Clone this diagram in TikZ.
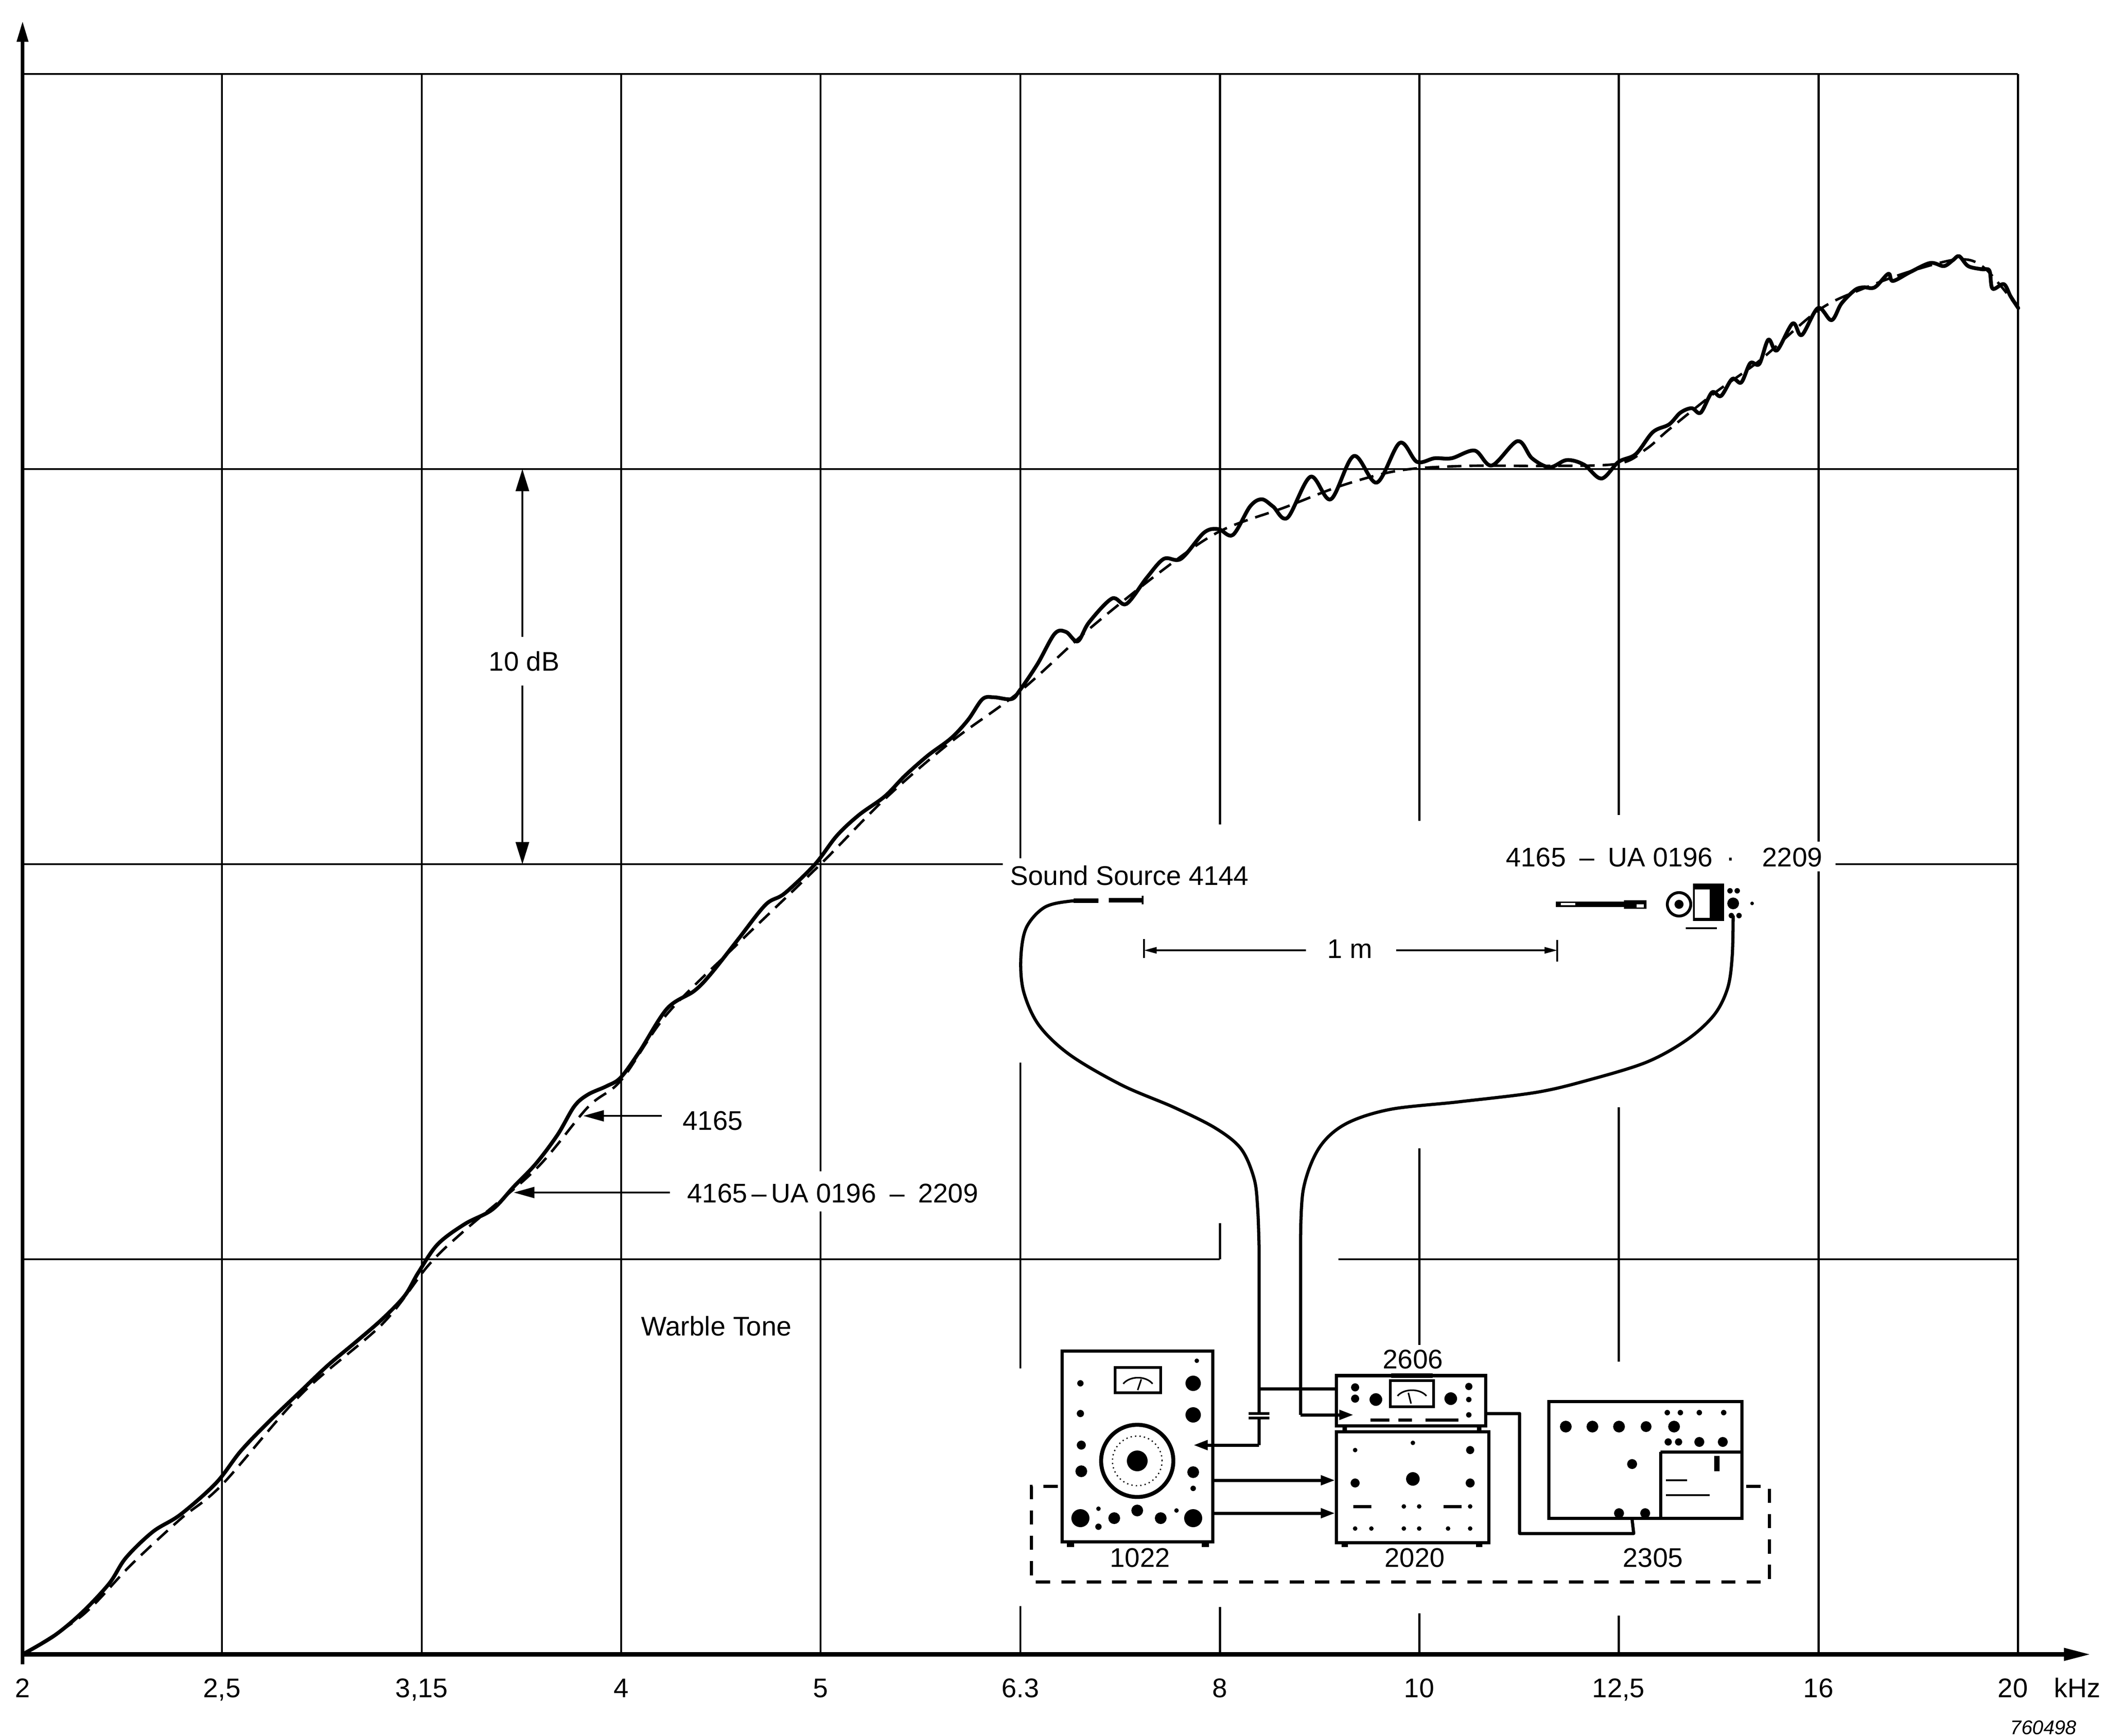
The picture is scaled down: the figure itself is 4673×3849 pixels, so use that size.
\documentclass[tikz,border=0pt]{standalone}
\usepackage{fontspec}
\setmainfont{Liberation Sans}
\usetikzlibrary{arrows.meta,calc}
\begin{document}
\begin{tikzpicture}[x=0.01cm,y=-0.01cm,
  grid/.style={line width=1.4pt},
  axisline/.style={line width=2pt},
  curve/.style={line width=2.4pt,line join=round,line cap=round},
  dcurve/.style={line width=1.6pt,dash pattern=on 9pt off 5pt},
  lbl/.style={font=\fontsize{17}{20}\selectfont,inner sep=0pt},
  thinarrow/.style={line width=0.9pt,-{Triangle[length=13pt,width=7pt]}},
  cable/.style={line width=2pt,line join=round},
  sig/.style={line width=2pt,-{Triangle[length=9pt,width=6pt]}},
  inst/.style={draw,line width=2pt,fill=white,inner sep=0pt},
  dashbox/.style={line width=2pt,dash pattern=on 9pt off 7pt},
  thin/.style={line width=1pt}]
\useasboundingbox (0,0) rectangle (4673,3849);
\fill[white] (0,0) rectangle (4673,3849);
% ---------- grid ----------
\draw[grid] (50,164) -- (4473,164);
\draw[grid] (50,1040) -- (4473,1040);
\draw[grid] (50,1916) -- (2223,1916) (4069,1916) -- (4473,1916);
\draw[grid] (50,2792) -- (2704,2792) (2967,2792) -- (4473,2792);
\foreach \x in {492,935,1377,4473} \draw[grid] (\x,164) -- (\x,3668);
\draw[grid] (1819,164) -- (1819,2597) (1819,2686) -- (1819,3668);
\draw[grid] (2262,164) -- (2262,1903) (2262,2356) -- (2262,3034) (2262,3561) -- (2262,3668);
\draw[grid] (2704,164) -- (2704,1828) (2704,2712) -- (2704,2792) (2704,3563) -- (2704,3668);
\draw[grid] (3146,164) -- (3146,1820) (3146,2546) -- (3146,2982) (3146,3577) -- (3146,3668);
\draw[grid] (3588,164) -- (3588,1807) (3588,2455) -- (3588,3019) (3588,3582) -- (3588,3668);
\draw[grid] (4031,164) -- (4031,1866) (4031,1932) -- (4031,3668);
% ---------- axes ----------
\draw[axisline,-{Triangle[length=13pt,width=7pt]}] (50,3690) -- (50,47);
\draw[line width=2.7pt,-{Triangle[length=17pt,width=7.5pt]}] (50,3668) -- (4635,3668);
\foreach \x/\t in {50/2,492/{2,5},935/{3,15},1377/4,1819/5,2262/6.3,2704/8,3146/10,3588/{12,5},4031/16,4462/20}
  \node[lbl,anchor=base] at (\x,3763) {\t};
\node[lbl,anchor=base] (khz) at (4605,3763) {kHz};
\node[font=\fontsize{12.5}{14}\selectfont\itshape,anchor=base,inner sep=0pt] (fig) at (4530,3845) {760498};
% ---------- curves ----------
\draw[dcurve] plot[smooth,tension=0.55] coordinates {(50,3668) (182,3582) (290,3470) (400,3368) (492,3292) (667,3092) (848,2935) (950,2805) (1030,2728) (1188,2592) (1303,2455) (1377,2395) (1479,2248) (1636,2092) (1819,1916) (1961,1772) (2108,1645) (2262,1532) (2414,1395) (2580,1262) (2704,1178) (2848,1125) (2976,1076) (3103,1043) (3250,1033) (3435,1033) (3588,1028) (3650,995) (3700,952) (3800,872) (3900,800) (4031,688) (4130,640) (4240,600) (4343,575) (4400,595) (4474,683)};
\draw[curve] plot[smooth,tension=0.55] coordinates {(50,3668) (121,3626) (182,3575) (242,3511) (279,3454) (339,3396) (400,3358) (479,3288) (533,3218) (594,3154) (667,3084) (727,3027) (788,2976) (848,2924) (897,2873) (927,2822) (970,2759) (1030,2714) (1091,2682) (1139,2631) (1188,2580) (1236,2516) (1273,2453) (1303,2427) (1345,2408) (1376,2389) (1418,2331) (1479,2236) (1539,2197) (1576,2159) (1636,2083) (1697,2006) (1739,1981) (1806,1917) (1855,1853) (1904,1807) (1961,1766) (2006,1720) (2057,1675) (2108,1637) (2146,1596) (2178,1550) (2204,1546) (2242,1550) (2261,1530) (2300,1472) (2338,1405) (2363,1401) (2389,1422) (2414,1380) (2465,1327) (2497,1339) (2542,1281) (2580,1239) (2618,1239) (2669,1181) (2701,1173) (2733,1186) (2771,1123) (2797,1107) (2822,1123) (2854,1148) (2905,1057) (2950,1107) (3001,1011) (3052,1070) (3103,982) (3141,1024) (3180,1016) (3218,1016) (3269,999) (3307,1032) (3364,978) (3396,1016) (3435,1036) (3473,1020) (3511,1030) (3550,1061) (3588,1024) (3626,1007) (3664,958) (3700,941) (3725,915) (3750,905) (3770,915) (3795,870) (3815,878) (3840,840) (3860,848) (3880,805) (3900,807) (3920,753) (3939,777) (3974,717) (3994,743) (4030,683) (4060,710) (4082,673) (4112,643) (4131,637) (4156,637) (4186,607) (4196,623) (4235,603) (4279,583) (4309,590) (4329,577) (4343,568) (4363,590) (4393,597) (4410,600) (4417,640) (4442,630) (4457,657) (4474,683)};
% ---------- 10 dB ----------
\draw[line width=0.9pt,{Triangle[length=14pt,width=8.5pt]}-{Triangle[length=14pt,width=8.5pt]}] (1158,1040) -- (1158,1916);
\node[lbl,fill=white,inner xsep=3pt,inner ysep=9pt] (db) at (1162,1466) {10 dB};
% ---------- curve labels ----------
\node[lbl,anchor=base] (l1) at (1580,2505) {4165};
\node[lbl,anchor=base] (l2) at (1846,2666) {4165\,–\,UA 0196\enspace–\enspace2209};
\draw[thinarrow] (1467,2474) -- (1293,2474);
\draw[thinarrow] (1485,2644) -- (1139,2644);
\node[lbl,anchor=base] (wt) at (1588,2961) {Warble Tone};
% ---------- set-up labels ----------
\node[lbl,anchor=base] (ss) at (2504,1962) {Sound Source 4144};
\node[lbl,anchor=base] (ml) at (3689,1921) {4165\enspace–\enspace UA 0196\enspace·\quad 2209};
\node[lbl,anchor=base] (onem) at (2992,2124) {1 m};
\draw[thin] (2536,2082) -- (2536,2124) (3452,2084) -- (3452,2132);
\draw[thin,-{Triangle[length=8pt,width=4pt]}] (2895,2107) -- (2536,2107);
\draw[thin,-{Triangle[length=8pt,width=4pt]}] (3095,2107) -- (3452,2107);
% sound source
\draw[line width=2.8pt] (2458,1996) -- (2533,1996);
\draw[line width=1pt] (2533,1986) -- (2533,2005);
\draw[cable] plot[smooth,tension=0.55] coordinates {(2435,1997) (2372,1998) (2315,2012) (2275,2057) (2263,2124) (2269,2198) (2303,2273) (2372,2339) (2487,2406) (2602,2455) (2694,2501) (2751,2547) (2780,2613) (2788,2679) (2791,2762)} -- (2791,3204);
\draw[line width=2.8pt] (2380,1997) -- (2435,1997);
% microphone + 2209
\fill (3449,1999) rectangle (3600,2011);
\fill[white] (3460,2002) rectangle (3492,2007);
\fill (3600,1996) rectangle (3650,2015);
\fill[white] (3628,2005) rectangle (3644,2012);
\draw[line width=1.8pt] (3722,2005) circle (0.26cm);
\fill (3722,2005) circle (0.1cm);
\fill (3753,1959) rectangle (3822,2042);
\fill[white] (3757,1972) rectangle (3790,2035);
\fill (3835,1975) circle (0.06cm) (3851,1975) circle (0.06cm) (3842,2003) circle (0.13cm) (3838,2030) circle (0.06cm) (3855,2030) circle (0.06cm) (3884,2003) circle (0.04cm);
\draw[thin] (3737,2058) -- (3806,2058);
\draw[cable] plot[smooth,tension=0.55] coordinates {(3842,2030) (3840,2119) (3830,2190) (3800,2250) (3740,2305) (3650,2355) (3520,2395) (3405,2422) (3233,2443) (3080,2460) (2981,2493) (2923,2547) (2889,2638) (2883,2762)} -- (2883,3137);
% dashed frame
\draw[dashbox] (2345,3295) -- (2286,3295) -- (2286,3507) -- (3922,3507) -- (3922,3295) -- (3866,3295);
% capacitor
\fill[white] (2770,3135) rectangle (2812,3143);
\draw[line width=1.5pt] (2768,3134) -- (2814,3134) (2768,3144) -- (2814,3144);
% ---------- instruments ----------
\node[inst,minimum width=3.33cm,minimum height=4.22cm] (i1022) at (2521.5,3207) {};
\node[inst,minimum width=3.30cm,minimum height=1.11cm] (i2606) at (3128,3105.5) {};
\node[inst,minimum width=3.37cm,minimum height=2.45cm] (i2020) at (3131.5,3297.5) {};
\node[inst,minimum width=4.27cm,minimum height=2.58cm] (i2305) at (3647.5,3237) {};
\node[lbl,anchor=base] at (3132,3034) {2606};
\node[lbl,anchor=base] at (2527,3474) {1022};
\node[lbl,anchor=base] at (3136,3474) {2020};
\node[lbl,anchor=base] at (3664,3474) {2305};
% 1022 details
\draw[line width=1.5pt] (2472,3032) rectangle (2573,3088);
\draw[thin] (2490,3068) .. controls (2505,3050) and (2540,3050) .. (2555,3068);
\draw[thin] (2522,3082) -- (2530,3058);
\fill (2395,3067) circle (0.07cm) (2395,3134) circle (0.08cm) (2653,3017) circle (0.05cm) (2645,3067) circle (0.17cm) (2645,3137) circle (0.17cm)
      (2397,3204) circle (0.1cm) (2397,3262) circle (0.13cm) (2645,3264) circle (0.13cm) (2645,3300) circle (0.06cm)
      (2395,3366) circle (0.2cm) (2435,3385) circle (0.07cm) (2470,3366) circle (0.13cm) (2521,3349) circle (0.13cm) (2573,3366) circle (0.13cm) (2645,3366) circle (0.2cm) (2435,3345) circle (0.05cm) (2608,3349) circle (0.05cm);
\draw[line width=2.5pt] (2521,3239) circle (0.8cm);
\draw[line width=0.8pt,dotted] (2521,3239) circle (0.55cm);
\fill (2521,3239) circle (0.23cm);
\fill (2365,3418) rectangle (2381,3430) (2664,3418) rectangle (2680,3430);
% 2606 details
\draw[line width=3pt] (3084,3050) -- (3176,3050);
\draw[line width=1.5pt] (3082,3061) rectangle (3178,3119);
\draw[thin] (3098,3095) .. controls (3112,3078) and (3148,3078) .. (3162,3095);
\draw[thin] (3128,3112) -- (3122,3088);
\fill (3004,3076) circle (0.09cm) (3004,3101) circle (0.09cm) (3050,3103) circle (0.14cm) (3216,3101) circle (0.14cm) (3256,3074) circle (0.08cm) (3256,3103) circle (0.06cm) (3256,3137) circle (0.06cm);
\draw[line width=2pt] (3038,3148) -- (3080,3148) (3100,3148) -- (3130,3148) (3160,3148) -- (3233,3148);
\draw[line width=3pt] (2981,3161) -- (2981,3175) (3279,3161) -- (3279,3175);
% 2020 details
\fill (3004,3215) circle (0.05cm) (3259,3215) circle (0.09cm) (3132,3199) circle (0.05cm) (3004,3288) circle (0.1cm) (3132,3279) circle (0.15cm) (3259,3288) circle (0.1cm)
      (3112,3340) circle (0.05cm) (3146,3340) circle (0.05cm) (3259,3340) circle (0.05cm)
      (3004,3389) circle (0.05cm) (3040,3389) circle (0.05cm) (3112,3389) circle (0.05cm) (3146,3389) circle (0.05cm) (3210,3389) circle (0.05cm) (3259,3389) circle (0.05cm);
\draw[line width=2pt] (3000,3340) -- (3040,3340) (3200,3340) -- (3240,3340);
\fill (2974,3420) rectangle (2988,3430) (3272,3420) rectangle (3286,3430);
% 2305 details
\draw[line width=2pt] (3681,3219) -- (3861,3219) (3681,3219) -- (3681,3366);
\draw[thin] (3693,3282) -- (3740,3282) (3693,3315) -- (3790,3315);
\fill (3471,3163) circle (0.13cm) (3530,3163) circle (0.13cm) (3589,3163) circle (0.13cm) (3649,3163) circle (0.12cm) (3711,3163) circle (0.13cm)
      (3696,3132) circle (0.06cm) (3725,3132) circle (0.06cm) (3767,3132) circle (0.06cm) (3821,3132) circle (0.06cm)
      (3698,3197) circle (0.08cm) (3721,3197) circle (0.08cm) (3767,3197) circle (0.11cm) (3819,3197) circle (0.11cm)
      (3618,3246) circle (0.11cm) (3589,3355) circle (0.11cm) (3647,3355) circle (0.11cm);
\fill (3800,3228) rectangle (3812,3262);
% ---------- connections ----------
\draw[cable] (2791,3079) -- ($(i2606.west)+(0,-26.5)$);
\draw[sig] (2883,3137) -- ($(i2606.west)+(41,31.5)$);
\draw[sig] (2791,3204) -- ($(i1022.east)+(-46,-3)$);
\draw[sig] ($(i1022.east)+(0,75)$) -- ($(i2020.west)+(0,-15.5)$);
\draw[sig] ($(i1022.east)+(0,148)$) -- ($(i2020.west)+(0,57.5)$);
\draw[cable] ($(i2606.east)+(0,28.5)$) -- ++(72,0) -- ++(0,266) -- ++(253,0) -- (i2305.south -| 3618,0);
\end{tikzpicture}
\end{document}
